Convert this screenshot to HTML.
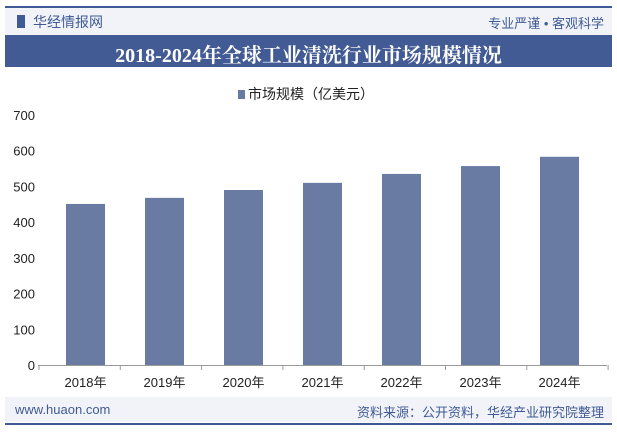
<!DOCTYPE html>
<html><head><meta charset="utf-8"><style>
body{margin:0;width:617px;height:435px;background:#fff;font-family:"Liberation Sans","Noto Sans CJK SC",sans-serif;position:relative;overflow:hidden}
.a{position:absolute}
</style></head><body>
<div class="a" style="left:5px;top:6px;width:607px;height:2px;background:#3f5a94"></div>
<div class="a" style="left:5px;top:8px;width:607px;height:27px;background:#f1f3f8"></div>
<div class="a" style="left:17px;top:15px;width:8px;height:13px;background:#3f5a94"></div>
<div class="a" style="left:33px;top:12px;font-size:14px;color:#3f5a94">华经情报网</div>
<div class="a" style="right:13px;top:13px;font-size:13px;color:#3f5a94">专业严谨 • 客观科学</div>
<div class="a" style="left:5px;top:35px;width:607px;height:32px;background:#425b94"></div>
<div class="a" style="left:5px;top:39px;width:607px;text-align:center;font-size:20px;font-weight:bold;color:#fff;font-family:'Liberation Serif','Noto Serif CJK SC',serif">2018-2024年全球工业清洗行业市场规模情况</div>
<div class="a" style="left:238px;top:84px;font-size:14px;color:#222"><span style="display:inline-block;width:7px;height:9px;background:#6a7ba3;margin-right:3px"></span>市场规模（亿美元）</div>
<svg class="a" style="left:0;top:0" width="617" height="435" id="chart"></svg>
<div class="a" style="left:5px;top:397px;width:607px;height:25px;background:#f1f3f8"></div>
<div class="a" style="left:15px;top:402px;font-size:13px;color:#3f5a94">www.huaon.com</div>
<div class="a" style="right:13px;top:402px;font-size:13px;color:#3f5a94">资料来源：公开资料，华经产业研究院整理</div>
<div class="a" style="left:5px;top:423px;width:607px;height:2px;background:#3f5a94"></div>
<script>
const categories=["2018年","2019年","2020年","2021年","2022年","2023年","2024年"];
const values=[451,468,490,510,535,557,583];
const ticks=[0,100,200,300,400,500,600,700];
const svg=document.getElementById('chart');const NS='http://www.w3.org/2000/svg';
const x0=46,x1=599,y0=365,y1=115,max=700;
const bw=(x1-x0)/categories.length;
const y=v=>y0-(v/max)*(y0-y1);
function mk(t,a){const e=document.createElementNS(NS,t);for(const k in a)e.setAttribute(k,a[k]);svg.appendChild(e);return e;}
ticks.forEach(t=>{const e=mk('text',{x:35,y:y(t)+5,'text-anchor':'end','font-size':13,fill:'#222'});e.textContent=t;

});
categories.forEach((c,i)=>{const cx=x0+bw*(i+0.5);
const r=mk('rect',{x:cx-19.5,y:y(values[i]),width:39,height:y0-y(values[i]),fill:'#6a7ba3'});


const t=mk('text',{x:cx,y:y0+22,'text-anchor':'middle','font-size':13,fill:'#222'});t.textContent=c;

});
const ax=mk('line',{x1:x0-8,x2:x1+8,y1:y0+0.5,y2:y0+0.5,stroke:'#999'});


for(let i=0;i<=categories.length;i++){const tk=mk('line',{x1:x0-7+(bw+2.3)*i,x2:x0-7+(bw+2.3)*i,y1:y0,y2:y0+5,stroke:'#999'});

}
</script>
</body></html>
